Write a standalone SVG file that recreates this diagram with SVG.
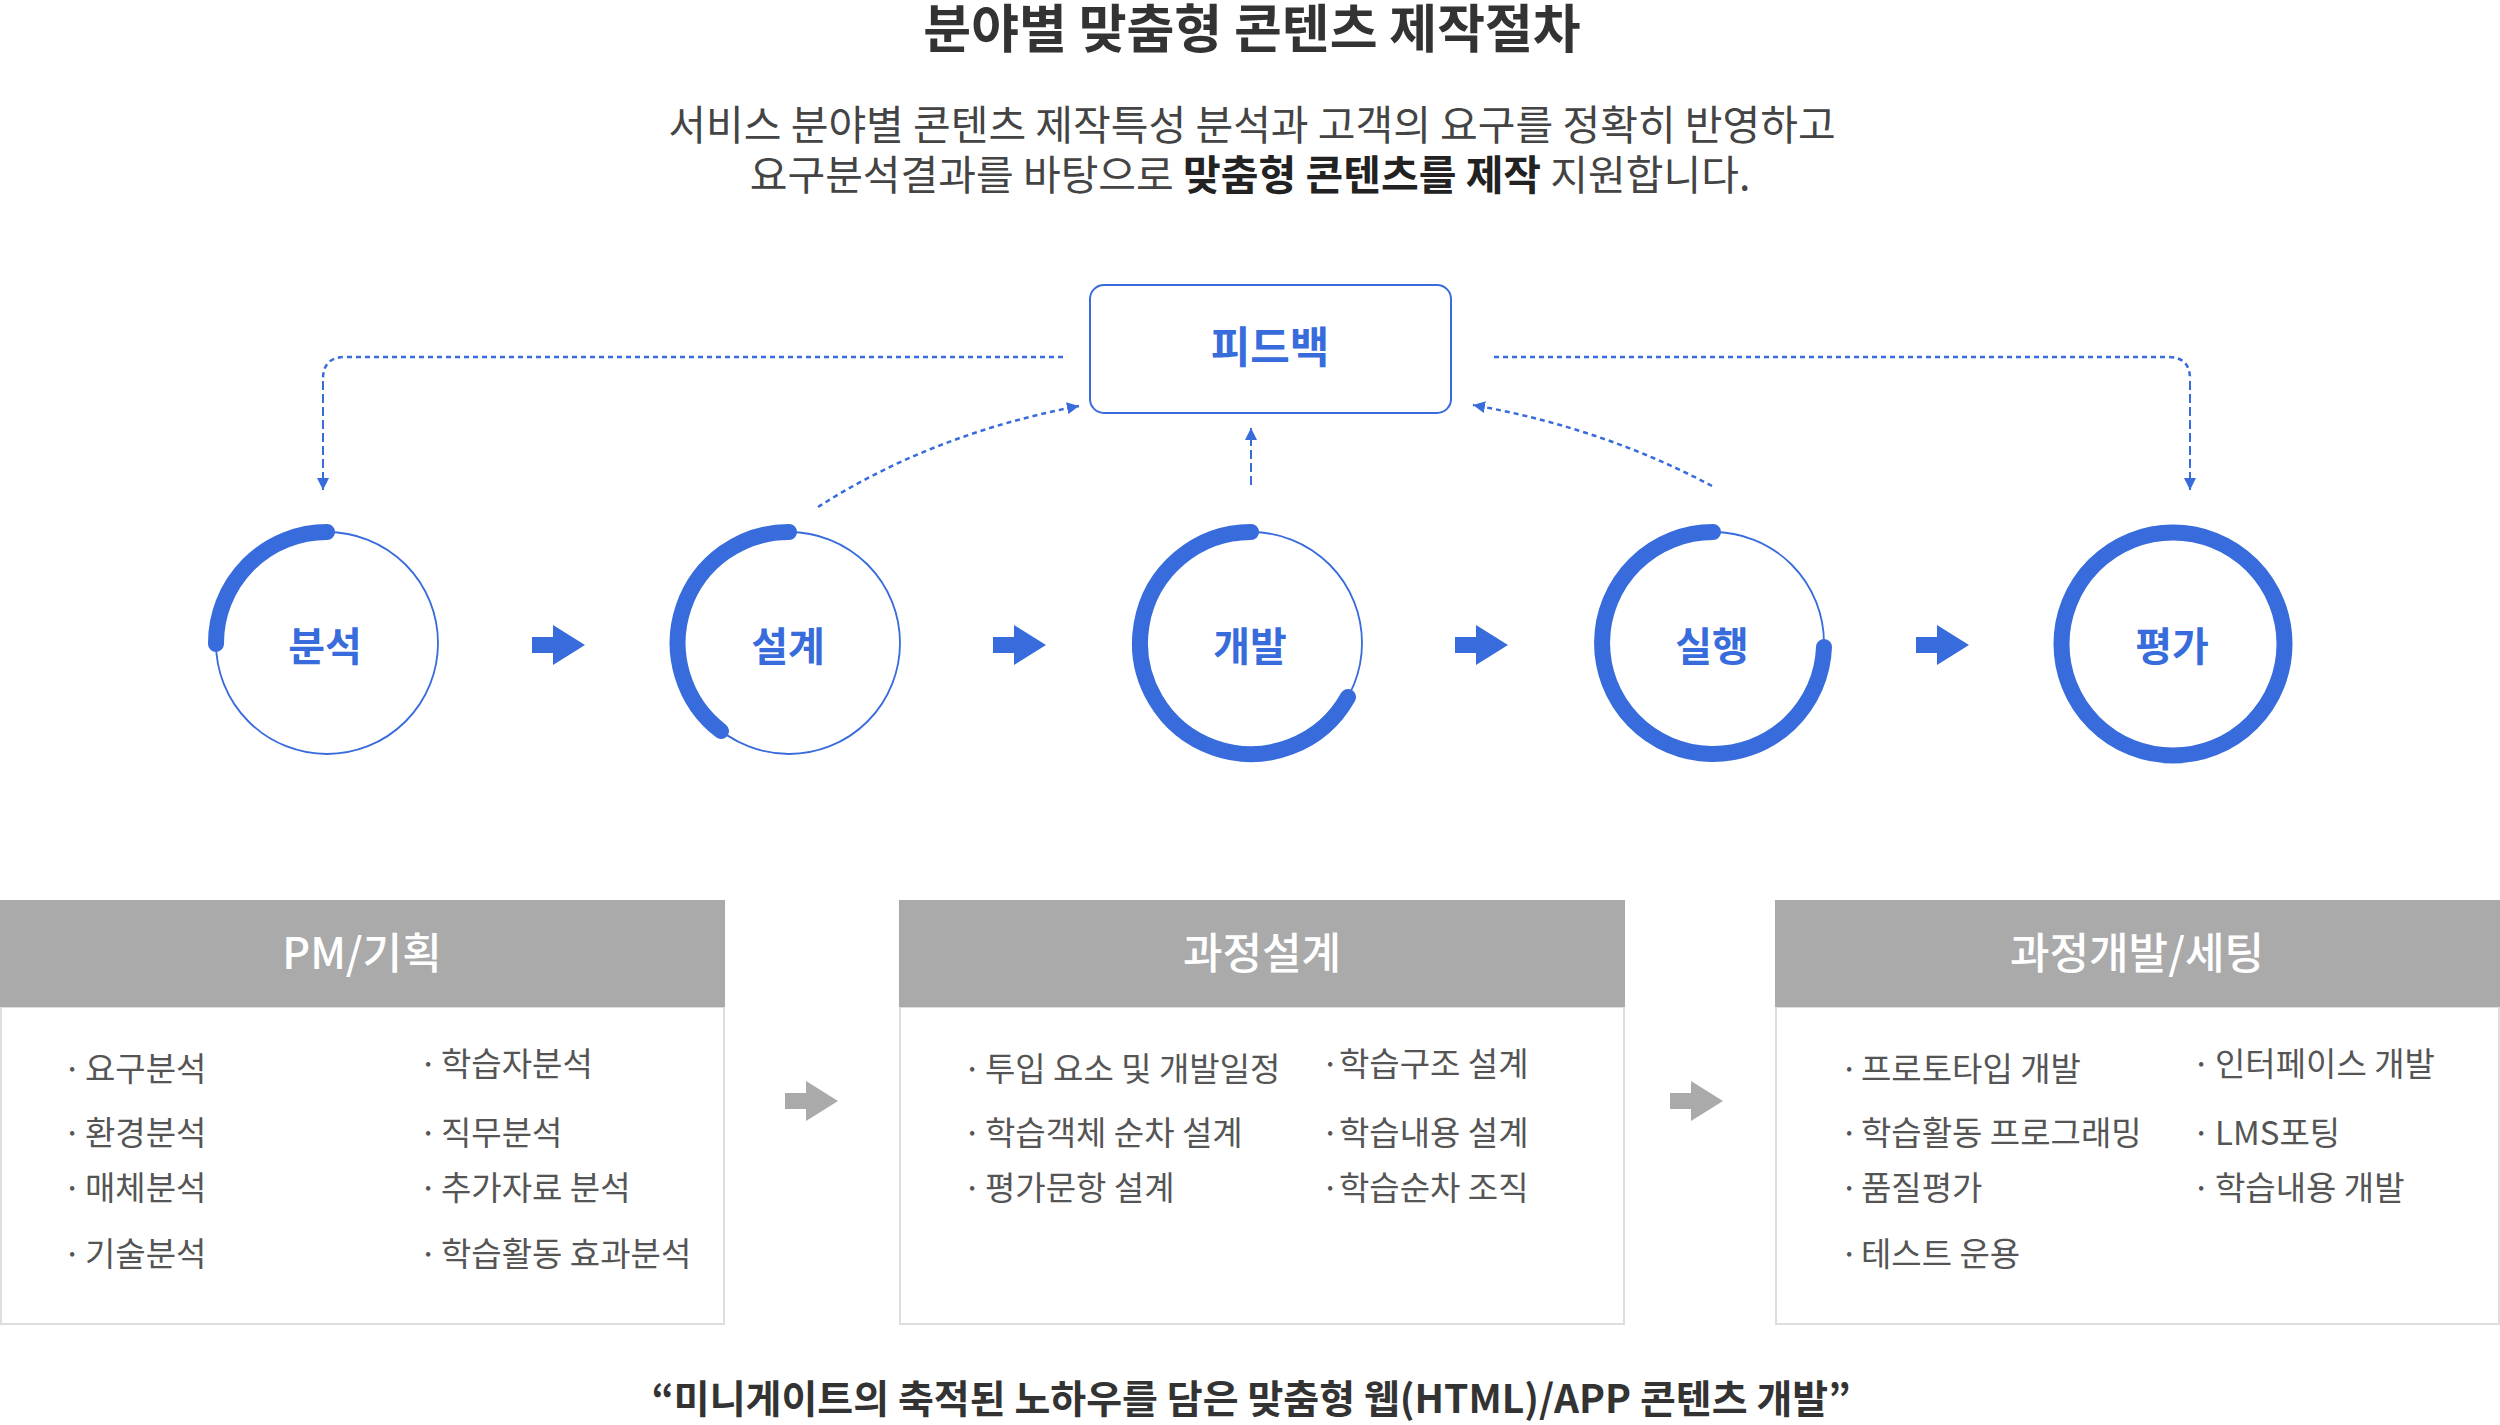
<svg xmlns="http://www.w3.org/2000/svg" width="2500" height="1425" viewBox="0 0 2500 1425">
<style>
text{font-family:"Noto Sans CJK KR","Noto Sans CJK SC",sans-serif}
.title{font-size:52px;font-weight:700;fill:#333;text-anchor:middle}
.sub{font-size:41px;fill:#444;text-anchor:middle}
.b{font-weight:700;fill:#222}
.lbl{font-size:40px;font-weight:700;fill:#386bdb;text-anchor:middle}
.fbl{font-size:43px;font-weight:700;fill:#386bdb;text-anchor:middle}
.ring{fill:none;stroke:#386bdb;stroke-width:1.8}
.arc{fill:none;stroke:#386bdb;stroke-width:16;stroke-linecap:round}
.dash{fill:none;stroke:#386bdb;stroke-width:2.5;stroke-dasharray:5 4}
.vdash{fill:none;stroke:#386bdb;stroke-width:2;stroke-dasharray:9 4}
.fb{fill:#fff;stroke:#386bdb;stroke-width:2}
.hdr{fill:#aaa}
.body{fill:#fff;stroke:#ddd;stroke-width:2}
.htxt{font-size:43px;font-weight:500;fill:#fff;text-anchor:middle}
.item{font-size:33px;fill:#555}
.foot{font-size:39px;font-weight:700;fill:#333;text-anchor:middle}
</style>
<defs>
<marker id="ah" markerWidth="14" markerHeight="12" refX="12" refY="6" orient="auto" markerUnits="userSpaceOnUse"><path d="M0,0 L12,6 L0,12 z" fill="#386bdb"/></marker>
<path id="blk" d="M-26,-8 H-5 V-20 L27,0 L-5,20 V8 H-26 z"/>
</defs>

<text class="title" x="1252" y="48">분야별 맞춤형 콘텐츠 제작절차</text>
<text class="sub" x="1252" y="140">서비스 분야별 콘텐츠 제작특성 분석과 고객의 요구를 정확히 반영하고</text>
<text class="sub" x="1250" y="190">요구분석결과를 바탕으로 <tspan class="b">맞춤형 콘텐츠를 제작</tspan> 지원합니다.</text>

<g id="connectors">
<path class="dash" d="M1063,357 H345 Q323,357 323,379"/>
<path class="vdash" d="M323,381 V490" marker-end="url(#ah)"/>
<path class="dash" d="M1494,357 H2168 Q2190,357 2190,379"/>
<path class="vdash" d="M2190,381 V490" marker-end="url(#ah)"/>
<path class="dash" d="M818,507 Q932,434 1079,406" marker-end="url(#ah)"/>
<path class="dash" d="M1712,486 Q1603,428 1473,405" marker-end="url(#ah)"/>
<path class="vdash" d="M1251,485 V428" marker-end="url(#ah)"/>
<use href="#blk" x="558" y="645" fill="#386bdb"/>
<use href="#blk" x="1019" y="645" fill="#386bdb"/>
<use href="#blk" x="1481" y="645" fill="#386bdb"/>
<use href="#blk" x="1942" y="645" fill="#386bdb"/>
<use href="#blk" x="811" y="1101" fill="#aaa"/>
<use href="#blk" x="1696" y="1101" fill="#aaa"/>
</g>

<g id="feedback">
<rect class="fb" x="1090" y="285" width="361" height="128" rx="14"/>
<text class="fbl" x="1270" y="363">피드백</text>
</g>

<g id="n-analysis">
<circle class="ring" cx="327" cy="643" r="111"/>
<path class="arc" d="M327,532 A111,111 0 0 0 216,644"/>
<text class="lbl" x="325" y="661">분석</text>
</g>
<g id="n-design">
<circle class="ring" cx="789" cy="643" r="111"/>
<path class="arc" d="M789,532 A111,111 0 0 0 721,731"/>
<text class="lbl" x="788" y="661">설계</text>
</g>
<g id="n-develop">
<circle class="ring" cx="1251" cy="643" r="111"/>
<path class="arc" d="M1251,532 A111,111 0 1 0 1348,697"/>
<text class="lbl" x="1250" y="661">개발</text>
</g>
<g id="n-run">
<circle class="ring" cx="1713" cy="643" r="111"/>
<path class="arc" d="M1713,532 A111,111 0 1 0 1824,647"/>
<text class="lbl" x="1712" y="661">실행</text>
</g>
<g id="n-eval">
<circle class="arc" cx="2173" cy="644" r="111.5"/>
<text class="lbl" x="2172" y="661">평가</text>
</g>

<g id="box-pm">
<rect class="body" x="1" y="1007" width="723" height="317"/>
<rect class="hdr" x="0" y="900" width="725" height="107"/>
<text class="htxt" x="362" y="969">PM/기획</text>
<text class="item" y="1081"><tspan x="63">·</tspan><tspan x="85">요구분석</tspan></text>
<text class="item" y="1145"><tspan x="63">·</tspan><tspan x="85">환경분석</tspan></text>
<text class="item" y="1200"><tspan x="63">·</tspan><tspan x="85">매체분석</tspan></text>
<text class="item" y="1266"><tspan x="63">·</tspan><tspan x="85">기술분석</tspan></text>
<text class="item" y="1076"><tspan x="419">·</tspan><tspan x="441">학습자분석</tspan></text>
<text class="item" y="1145"><tspan x="419">·</tspan><tspan x="441">직무분석</tspan></text>
<text class="item" y="1200"><tspan x="419">·</tspan><tspan x="441">추가자료 분석</tspan></text>
<text class="item" y="1266"><tspan x="419">·</tspan><tspan x="441">학습활동 효과분석</tspan></text>
</g>

<g id="box-design">
<rect class="body" x="900" y="1007" width="724" height="317"/>
<rect class="hdr" x="899" y="900" width="726" height="107"/>
<text class="htxt" x="1262" y="969">과정설계</text>
<text class="item" y="1081"><tspan x="963">·</tspan><tspan x="985">투입 요소 및 개발일정</tspan></text>
<text class="item" y="1145"><tspan x="963">·</tspan><tspan x="985">학습객체 순차 설계</tspan></text>
<text class="item" y="1200"><tspan x="963">·</tspan><tspan x="985">평가문항 설계</tspan></text>
<text class="item" y="1076"><tspan x="1321">·</tspan><tspan x="1339">학습구조 설계</tspan></text>
<text class="item" y="1145"><tspan x="1321">·</tspan><tspan x="1339">학습내용 설계</tspan></text>
<text class="item" y="1200"><tspan x="1321">·</tspan><tspan x="1339">학습순차 조직</tspan></text>
</g>

<g id="box-dev">
<rect class="body" x="1776" y="1007" width="723" height="317"/>
<rect class="hdr" x="1775" y="900" width="725" height="107"/>
<text class="htxt" x="2137" y="969">과정개발/세팅</text>
<text class="item" y="1081"><tspan x="1840">·</tspan><tspan x="1861">프로토타입 개발</tspan></text>
<text class="item" y="1145"><tspan x="1840">·</tspan><tspan x="1861">학습활동 프로그래밍</tspan></text>
<text class="item" y="1200"><tspan x="1840">·</tspan><tspan x="1861">품질평가</tspan></text>
<text class="item" y="1266"><tspan x="1840">·</tspan><tspan x="1861">테스트 운용</tspan></text>
<text class="item" y="1076"><tspan x="2192">·</tspan><tspan x="2215">인터페이스 개발</tspan></text>
<text class="item" y="1145"><tspan x="2192">·</tspan><tspan x="2215">LMS포팅</tspan></text>
<text class="item" y="1200"><tspan x="2192">·</tspan><tspan x="2215">학습내용 개발</tspan></text>
</g>

<text class="foot" x="1251" y="1413">“미니게이트의 축적된 노하우를 담은 맞춤형 웹(HTML)/APP 콘텐츠 개발”</text>
</svg>
